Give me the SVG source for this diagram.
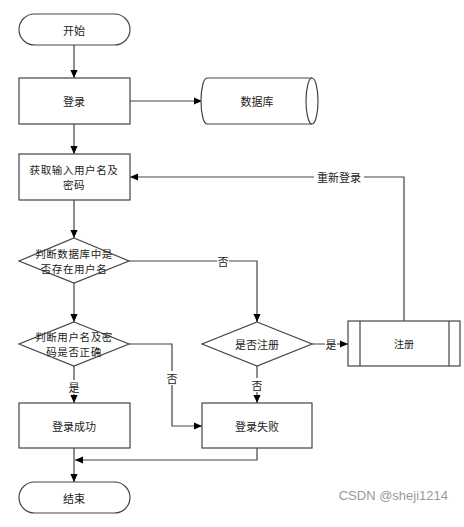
<svg xmlns="http://www.w3.org/2000/svg" width="464" height="527" viewBox="0 0 464 527">
<defs>
<marker id="ah" viewBox="0 0 10 10" refX="10" refY="5" markerWidth="8" markerHeight="8" markerUnits="userSpaceOnUse" orient="auto"><path d="M0,0.5 L10,5 L0,9.5 Z" fill="#000"/></marker>
</defs>
<style>
.s{fill:#fff;stroke:#444;stroke-width:1.2}
.t{font-family:"Noto Sans CJK SC","Liberation Sans",sans-serif;font-size:11px;fill:#222;text-anchor:middle;dominant-baseline:central}
.t2{font-size:10.5px;letter-spacing:0.6px}
.c{fill:none;stroke:#444;stroke-width:1.2;marker-end:url(#ah)}
.l{fill:none;stroke:#444;stroke-width:1.2}
.lb{fill:#fff}
</style>
<rect width="464" height="527" fill="#fff"/>
<g id="connectors">
<path class="c" d="M74,45 V78"/>
<path class="c" d="M130,101 H202"/>
<path class="c" d="M74,124 V154"/>
<path class="c" d="M404,321 V177 H130"/>
<path class="c" d="M74,200 V238"/>
<path class="c" d="M129,261 H257 V322"/>
<path class="c" d="M74,283 V322"/>
<path class="c" d="M312,344 H348"/>
<path class="c" d="M74,366 V403"/>
<path class="c" d="M129,344 H172 V426 H202"/>
<path class="c" d="M257,366 V403"/>
<path class="c" d="M74,448 V482"/>
<path class="c" d="M257,448 V460 H75"/>
<rect class="lb" x="314" y="170" width="50" height="14"/><text class="t" x="339" y="177">重新登录</text>
<rect class="lb" x="217" y="254" width="12" height="14"/><text class="t" x="223" y="261">否</text>
<rect class="lb" x="325" y="337" width="12" height="14"/><text class="t" x="331" y="344">是</text>
<rect class="lb" x="68" y="380" width="12" height="14"/><text class="t" x="74" y="387">是</text>
<rect class="lb" x="166" y="371" width="12" height="14"/><text class="t" x="172" y="378">否</text>
<rect class="lb" x="251" y="378" width="12" height="14"/><text class="t" x="257" y="385">否</text>
</g>
<g id="start"><rect class="s" x="19" y="14" width="111" height="31" rx="15.5"/><text class="t" x="74" y="29.5">开始</text></g>
<g id="login"><rect class="s" x="19" y="78" width="111" height="46"/><text class="t" x="74" y="101">登录</text></g>
<g id="db"><path class="s" d="M207,78 H312 A6,23 0 0 1 312,124 H207 A6,23 0 0 1 207,78 Z"/><path class="l" d="M312,78 A6,23 0 0 0 312,124"/><text class="t" x="257" y="101">数据库</text></g>
<g id="input"><rect class="s" x="19" y="154" width="111" height="46"/><text class="t t2" x="74" y="169.25">获取输入用户名及</text><text class="t t2" x="74" y="184.75">密码</text></g>
<g id="check-user"><path class="s" d="M74,238 L129,261 L74,283 L19,261 Z"/><text class="t t2" x="74" y="253.25">判断数据库中是</text><text class="t t2" x="74" y="268.75">否存在用户名</text></g>
<g id="check-pwd"><path class="s" d="M74,322 L129,344 L74,366 L19,344 Z"/><text class="t t2" x="74" y="336.25">判断用户名及密</text><text class="t t2" x="74" y="351.75">码是否正确</text></g>
<g id="ask-register"><path class="s" d="M257,322 L312,344 L257,366 L202,344 Z"/><text class="t" x="257" y="344">是否注册</text></g>
<g id="register"><rect class="s" x="348" y="321" width="112" height="45"/><path class="l" d="M360,321 V366 M449,321 V366"/><text class="t" x="404" y="343.5" style="font-size:10px">注册</text></g>
<g id="success"><rect class="s" x="19" y="403" width="111" height="45"/><text class="t" x="74" y="425.5">登录成功</text></g>
<g id="fail"><rect class="s" x="202" y="403" width="110" height="45"/><text class="t" x="257" y="425.5">登录失败</text></g>
<g id="end"><rect class="s" x="19" y="482" width="111" height="31" rx="15.5"/><text class="t" x="74" y="497.5">结束</text></g>
<text x="448" y="500" style="font-family:'Liberation Sans',sans-serif;font-size:13px;fill:#999;text-anchor:end">CSDN @sheji1214</text>
</svg>
